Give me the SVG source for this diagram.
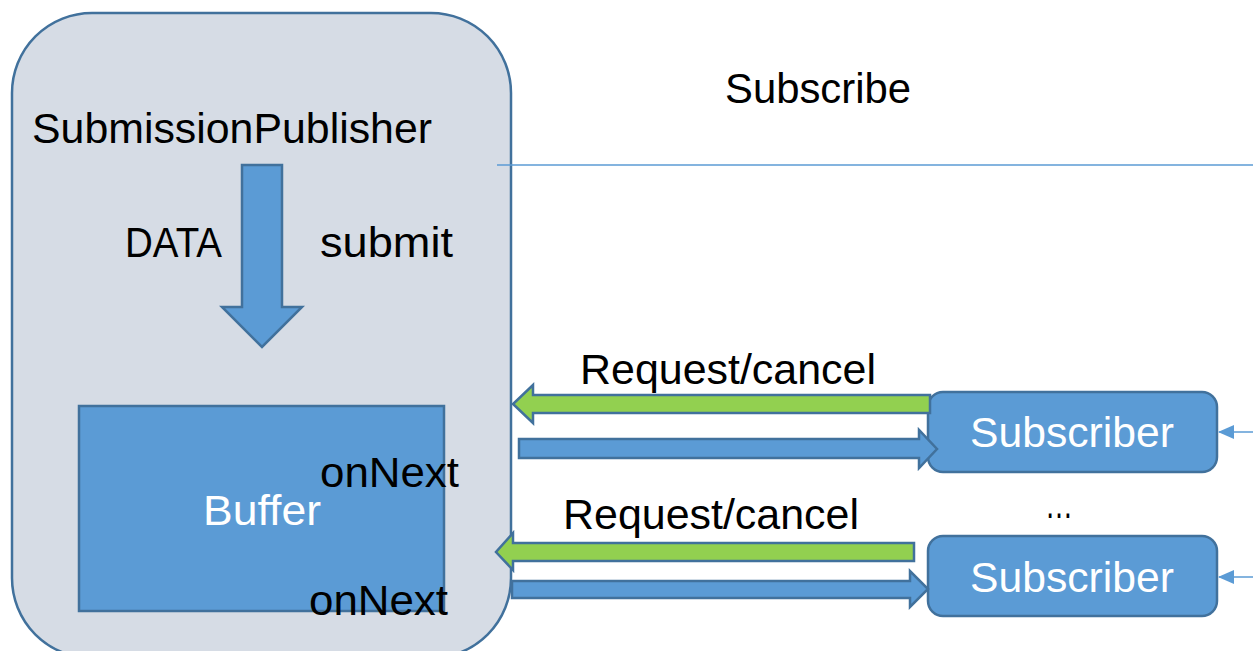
<svg xmlns="http://www.w3.org/2000/svg" width="1253" height="651" viewBox="0 0 1253 651">
  <style>
    .lbl { font-family: "Liberation Sans", Arial, sans-serif; font-size: 43px; fill: #000; }
    .wht { font-family: "Liberation Sans", Arial, sans-serif; font-size: 43px; fill: #fff; }
    .blue { fill: #5b9bd5; stroke: #41719c; stroke-width: 2.5; }
    .green { fill: #92d050; stroke: #41719c; stroke-width: 2.5; }
    .thin { stroke: #5b9bd5; stroke-width: 1.6; fill: none; }
  </style>
  <defs>
    <marker id="tip" viewBox="0 0 16 16" refX="15" refY="8" markerWidth="16" markerHeight="16" markerUnits="userSpaceOnUse" orient="auto">
      <path d="M0,1 L16,8 L0,15 Z" fill="#5b9bd5"/>
    </marker>
  </defs>

  <rect width="1253" height="651" fill="#fff"/>

  <!-- publisher container -->
  <g id="publisher">
    <rect x="12" y="13" width="499" height="645" rx="80" ry="80" fill="#d6dce5" stroke="#41719c" stroke-width="2.5"/>
    <text class="lbl" x="32" y="143" textLength="400" lengthAdjust="spacingAndGlyphs">SubmissionPublisher</text>
  </g>

  <!-- submit arrow into the buffer -->
  <g id="submit-arrow">
    <path class="blue" d="M242,165 H282 V307 H302 L262,347 L222,307 H242 Z"/>
    <text class="lbl" x="125" y="257" textLength="97" lengthAdjust="spacingAndGlyphs">DATA</text>
    <text class="lbl" x="320" y="257" textLength="133" lengthAdjust="spacingAndGlyphs">submit</text>
  </g>

  <!-- buffer -->
  <g id="buffer">
    <rect class="blue" x="79" y="406" width="365" height="205"/>
    <text class="wht" x="203" y="525" textLength="118" lengthAdjust="spacingAndGlyphs">Buffer</text>
  </g>

  <!-- subscribers -->
  <g id="subscriber-1">
    <rect class="blue" x="928" y="392" width="289" height="80" rx="15" ry="15"/>
    <text class="wht" x="970" y="447" textLength="204" lengthAdjust="spacingAndGlyphs">Subscriber</text>
  </g>
  <g id="subscriber-2">
    <rect class="blue" x="928" y="536" width="289" height="80" rx="15" ry="15"/>
    <text class="wht" x="970" y="592" textLength="204" lengthAdjust="spacingAndGlyphs">Subscriber</text>
  </g>

  <text class="lbl" x="1045" y="518" font-size="56" textLength="28" lengthAdjust="spacingAndGlyphs">…</text>

  <!-- connectors -->
  <g id="connectors">
    <line class="thin" x1="497" y1="165" x2="1253" y2="165"/>
    <line class="thin" x1="1253" y1="432" x2="1219" y2="432" marker-end="url(#tip)"/>
    <line class="thin" x1="1253" y1="577" x2="1219" y2="577" marker-end="url(#tip)"/>

    <!-- request/cancel, first subscriber -->
    <path class="green" d="M930,395 V413 H533 V423 L513,404 L533,385 V395 Z"/>
    <!-- onNext, first subscriber -->
    <path class="blue" d="M519,439 H919 V430 L937,449 L919,468 V458 H519 Z"/>

    <!-- request/cancel, second subscriber -->
    <path class="green" d="M914,543 V561 H513 V570 L496,552 L513,533 V543 Z"/>
    <!-- onNext, second subscriber -->
    <path class="blue" d="M512,581 H910 V571 L928,589 L910,607 V598 H512 Z"/>
  </g>

  <!-- connector labels -->
  <g id="labels">
    <text class="lbl" x="725" y="103" textLength="186" lengthAdjust="spacingAndGlyphs">Subscribe</text>
    <text class="lbl" x="580" y="384" textLength="296" lengthAdjust="spacingAndGlyphs">Request/cancel</text>
    <text class="lbl" x="320" y="487" textLength="139" lengthAdjust="spacingAndGlyphs">onNext</text>
    <text class="lbl" x="563" y="529" textLength="296" lengthAdjust="spacingAndGlyphs">Request/cancel</text>
    <text class="lbl" x="309" y="615" textLength="139" lengthAdjust="spacingAndGlyphs">onNext</text>
  </g>
</svg>
